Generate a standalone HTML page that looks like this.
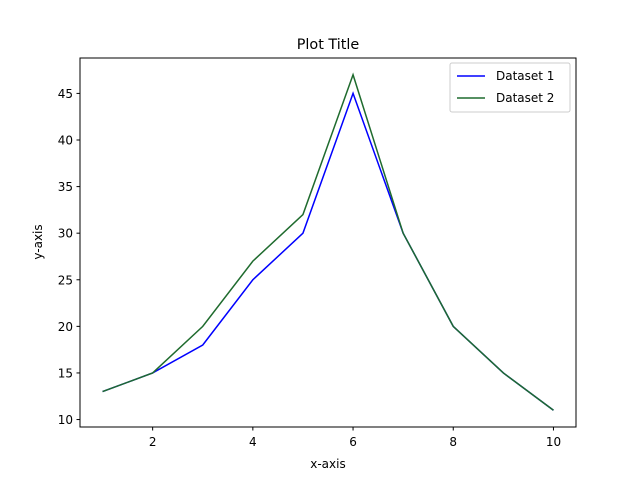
<!DOCTYPE html>
<html><head><meta charset="utf-8"><style>
body{margin:0;background:#fff;}
svg{display:block;font-family:"DejaVu Sans","Liberation Sans",sans-serif;}
</style></head><body>
<svg id="chart" width="640" height="480">
<rect x="0" y="0" width="640" height="480" fill="#fff"/>
<text x="328" y="49" font-size="14.4" text-anchor="middle">Plot Title</text>
<text x="328" y="468" font-size="12" text-anchor="middle">x-axis</text>
<text transform="translate(42,242) rotate(-90)" font-size="12" text-anchor="middle">y-axis</text>
<g id="xt"></g><g id="yt"></g><g id="lines"></g>
<rect x="80" y="58" width="496" height="369" fill="none" stroke="#000" stroke-width="1"/>
<g>
<rect x="450" y="63" width="120" height="49" rx="2" fill="#fff" fill-opacity="0.8" stroke="#ccc"/>
<line x1="457" y1="76" x2="485" y2="76" stroke="#0000ff" stroke-width="1.5"/>
<text x="496" y="80" font-size="12">Dataset 1</text>
<line x1="457" y1="98" x2="485" y2="98" stroke="#1f6b2e" stroke-width="1.5"/>
<text x="496" y="102" font-size="12">Dataset 2</text>
</g>
</svg>
<script>
const xValues=[1,2,3,4,5,6,7,8,9,10];
const series1=[13,15,18,25,30,45,30,20,15,11];
const series2=[13,15,20,27,32,47,30,20,15,11];
const xTicks=[2,4,6,8,10];
const yTicks=[10,15,20,25,30,35,40,45];
const NS="http://www.w3.org/2000/svg";
function xs(v){return 80+(v-0.55)/(9.9)*496;}
function ys(v){return 427-(v-9.2)/(39.6)*369;}
function mk(t,a,p){const e=document.createElementNS(NS,t);for(const k in a)e.setAttribute(k,a[k]);p.appendChild(e);return e;}
const xt=document.getElementById('xt'),yt=document.getElementById('yt'),lg=document.getElementById('lines');
xTicks.forEach(v=>{
 const l=mk('line',{x1:xs(v),x2:xs(v),y1:427,y2:430.5,stroke:'#000'},xt);
 
 
 const t=mk('text',{x:xs(v),y:446,'font-size':12,'text-anchor':'middle'},xt);t.textContent=v;
 
 
});
yTicks.forEach(v=>{
 const l=mk('line',{x1:76.5,x2:80,y1:ys(v),y2:ys(v),stroke:'#000'},yt);
 
 
 const t=mk('text',{x:73,y:ys(v)+4.5,'font-size':12,'text-anchor':'end'},yt);t.textContent=v;
 
 
});
function pts(s){return s.map((v,i)=>xs(xValues[i])+','+ys(v)).join(' ');}
const p1=mk('polyline',{points:pts(series1),fill:'none',stroke:'#0000ff','stroke-width':1.5},lg);


const p2=mk('polyline',{points:pts(series2),fill:'none',stroke:'#1f6b2e','stroke-width':1.5},lg);


</script>
</body></html>
